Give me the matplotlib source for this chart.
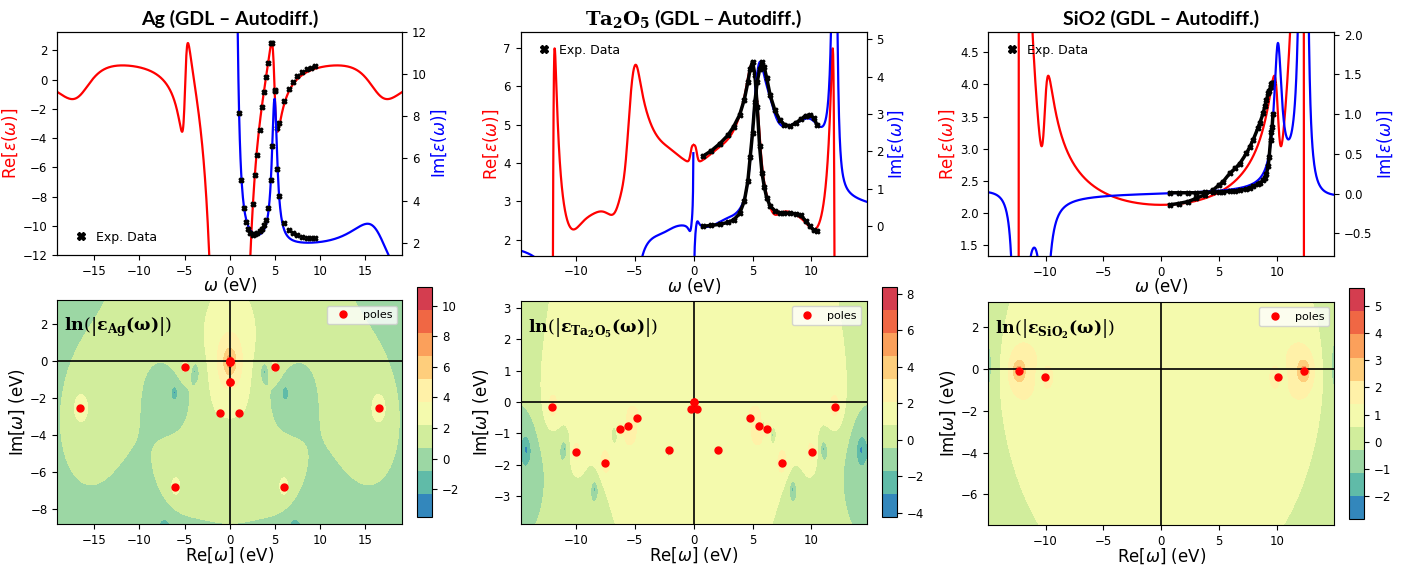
import numpy as np
import matplotlib
matplotlib.use('Agg')
import matplotlib.pyplot as plt

W, H = 1402, 566

# GDL poles; every pole off the imaginary axis has a partner at -conj(p)
ag_pole_re = [0.0, 4.95, 1.03, 16.55, 6.02]
ag_pole_im = [-1.17, -0.36, -2.8, -2.54, -6.82]
ta_pole_re = [0.0, 0.25, 2.1, 4.82, 5.55, 6.24, 7.52, 10.03, 12.0]
ta_pole_im = [0.0, -0.21, -1.52, -0.51, -0.76, -0.86, -1.94, -1.6, -0.16]
si_pole_re = [10.08, 12.33]
si_pole_im = [-0.4, -0.1]

# residues c = a + ib, eps_inf, Drude term (wp^2, gamma) for the metal
ag_res_a = [0.0, -2.483, 0.5647, -4.134, -1.832]
ag_res_b = [1.286, 0.02562, 2.785, -4.986, 3.442]
ag_einf = 0.998
ag_wp2 = 89.27
ag_gamma = 0.08
ta_res_a = [0.0, -0.07172, -0.08848, 0.09951, -2.881, -1.02, -1.057, -1.813, -2.405]
ta_res_b = [-0.02926, 0.01924, 0.3828, 0.2295, -0.1287, 0.9245, 2.377, -0.2231, -0.3869]
ta_einf = 1.324
si_res_a = [-0.6866, -4.771]
si_res_b = [-0.01496, -0.2213]
si_einf = 1.22

# measured permittivity
ag_exp_w = [1.0, 1.26, 1.52, 1.77, 2.0, 2.29, 2.55, 2.77, 3.03, 3.29, 3.55, 3.77, 4.03, 4.25,
            4.58, 4.7, 4.95, 5.25, 5.47, 5.99, 6.54, 7.02, 7.46, 8.02, 8.5, 8.94, 9.42]
ag_exp_re = [-77, -47, -32, -23, -17, -12.3, -8.5, -6.5, -5.16, -3.45, -1.9, -0.87, 0.2, 1.1,
             2.52, 2.5, -0.8, -3.3, -2.95, -1.44, -0.67, -0.14, 0.24, 0.54, 0.70, 0.81, 0.93]
ag_exp_im = [8.16, 5.0, 3.64, 3.01, 2.64, 2.46, 2.38, 2.41, 2.46, 2.55, 2.68, 2.85, 3.08, 3.64,
             4.97, 6.6, 9.25, 5.5, 4.2, 2.96, 2.61, 2.46, 2.38, 2.3, 2.25, 2.22, 2.22]

ta_exp_w = [0.79, 1.5, 2.2, 2.9, 3.4, 3.9, 4.3, 4.6, 4.8, 5.0, 5.2, 5.4, 5.6, 5.8, 6.0, 6.2,
            6.5, 6.9, 7.3, 7.7, 8.2, 8.7, 9.1, 9.5, 9.9, 10.2, 10.5]
ta_exp_re = [4.18, 4.32, 4.5, 4.72, 4.95, 5.25, 5.65, 6.1, 6.45, 6.64, 6.3, 5.45, 4.43, 3.75,
             3.38, 3.1, 2.88, 2.76, 2.71, 2.70, 2.69, 2.68, 2.64, 2.5, 2.35, 2.25, 2.22]
ta_exp_im = [0.0, 0.02, 0.05, 0.1, 0.17, 0.34, 0.67, 1.2, 1.85, 2.5, 3.33, 3.87, 4.2, 4.4,
             4.25, 3.97, 3.5, 3.1, 2.85, 2.72, 2.68, 2.77, 2.86, 2.96, 2.97, 2.9, 2.7]

si_exp_w = [0.72, 1.5, 2.3, 3.03, 3.8, 4.47, 5.0, 5.34, 5.92, 6.4, 6.78, 7.36, 7.65, 7.94,
            8.37, 8.51, 8.8, 8.95, 9.09, 9.24, 9.32, 9.44, 9.52, 9.58, 9.65]
si_exp_re = [2.13, 2.15, 2.18, 2.23, 2.29, 2.36, 2.44, 2.49, 2.62, 2.7, 2.77, 2.93, 3.03, 3.14,
             3.33, 3.40, 3.55, 3.66, 3.76, 3.86, 3.9, 3.96, 4.0, 4.02, 4.03]
si_exp_im = [0.01, 0.01, 0.01, 0.01, 0.015, 0.02, 0.02, 0.02, 0.03, 0.035, 0.04, 0.055, 0.07,
             0.09, 0.12, 0.13, 0.17, 0.2, 0.25, 0.35, 0.46, 0.67, 0.78, 0.84, 1.0]


def gdl(w, pre, pim, a, b, einf, wp2=0.0, gamma=None):
    w = np.asarray(w, dtype=complex)
    eps = np.full(w.shape, einf, dtype=complex)
    if gamma is not None:
        eps -= wp2 / (w * (w + 1j * gamma))
    for pr, pi, ai, bi in zip(pre, pim, a, b):
        p = pr + 1j * pi
        if pr == 0:
            eps += 2j * bi / (w - p)
        else:
            c = ai + 1j * bi
            eps += c / (w - p) - np.conj(c) / (w + np.conj(p))
    return eps


def box(l, t, r, b):
    return [l / W, 1 - b / H, (r - l) / W, (b - t) / H]


band_colors = plt.cm.Spectral_r(np.linspace(0.1, 0.9, 10))

plt.rcParams['font.size'] = 8.5
fig = plt.figure(figsize=(W / 100, H / 100), dpi=100)

panels = [
    dict(model=(ag_pole_re, ag_pole_im, ag_res_a, ag_res_b, ag_einf, ag_wp2, ag_gamma), xl=19.1,
         ylre=(-12, 3.27), ylim_=(1.43, 12), exp=(ag_exp_w, ag_exp_re, ag_exp_im),
         top=(57.3, 31.7, 402.3, 255), bot=(57.3, 300, 402.3, 524), cb=(417.3, 286.7, 432.3, 517.3),
         yb=(-8.81, 3.28), lev=(-3.83, 11.24), cbt=[-2, 0, 2, 4, 6, 8, 10], leg='lower left',
         dense=False, title='Ag (GDL – Autodiff.)', sub='Ag'),
    dict(model=(ta_pole_re, ta_pole_im, ta_res_a, ta_res_b, ta_einf), xl=14.7,
         ylre=(1.59, 7.4), ylim_=(-0.79, 5.19), exp=(ta_exp_w, ta_exp_re, ta_exp_im),
         top=(520.7, 32.3, 866.7, 255.7), bot=(520.7, 300.7, 866.7, 524.3), cb=(881.7, 287.3, 896.7, 517.3),
         yb=(-3.91, 3.24), lev=(-4.26, 8.37), cbt=[-4, -2, 0, 2, 4, 6, 8], leg='upper left',
         dense=True, title=r'$\mathbf{Ta_2O_5}$ (GDL – Autodiff.)', sub='Ta_2O_5'),
    dict(model=(si_pole_re, si_pole_im, si_res_a, si_res_b, si_einf), xl=14.95,
         ylre=(1.33, 4.81), ylim_=(-0.79, 2.03), exp=(si_exp_w, si_exp_re, si_exp_im),
         top=(988.3, 32.3, 1334.3, 256.3), bot=(988.3, 301.7, 1334.3, 525), cb=(1349.3, 288.3, 1364.3, 519),
         yb=(-7.46, 3.2), lev=(-2.84, 5.64), cbt=[-2, -1, 0, 1, 2, 3, 4, 5], leg='upper left',
         dense=True, title='SiO2 (GDL – Autodiff.)', sub='SiO_2'),
]

for P in panels:
    m = P['model']
    w = np.linspace(-P['xl'], P['xl'], 1001)
    with np.errstate(all='ignore'):
        eps = gdl(w, *m)
    ax = fig.add_axes(box(*P['top']))
    ax2 = ax.twinx()
    ax.plot(w, eps.real, color='red', lw=1.6)
    ax2.plot(w, eps.imag, color='blue', lw=1.6)
    ew, er, ei = P['exp']
    if P['dense']:
        ax.plot(ew, er, color='k', lw=2.5)
        ax2.plot(ew, ei, color='k', lw=2.5)
    ax.plot(ew, er, 'kX', ms=3.5, ls='none')
    h = ax2.plot(ew, ei, 'kX', ms=3.5, ls='none', label='Exp. Data')
    ax2.legend(handles=h, loc=P['leg'], frameon=False, fontsize=9, handletextpad=0.2,
               markerscale=1.7)
    ax.set_xlim(-P['xl'], P['xl'])
    ax.set_ylim(*P['ylre'])
    ax2.set_ylim(*P['ylim_'])
    ax.set_ylabel(r'Re[$\varepsilon(\omega)$]', color='red', fontsize=12, labelpad=2)
    ax2.set_ylabel(r'Im[$\varepsilon(\omega)$]', color='blue', fontsize=12, labelpad=2)
    ax.set_xlabel(r'$\omega$ (eV)', fontsize=12, labelpad=-2)
    ax.set_title(P['title'], fontsize=14, fontweight='bold', family='Lato',
                 math_fontfamily='dejavuserif', pad=5)

    # ln|eps| over the complex frequency plane
    bx = fig.add_axes(box(*P['bot']))
    X, Y = np.meshgrid(np.linspace(-P['xl'], P['xl'], 600),
                       np.linspace(P['yb'][0], P['yb'][1], 300))
    with np.errstate(all='ignore'):
        Z = np.log(np.abs(gdl(X + 1j * Y, *m)))
    lo, hi = P['lev']
    Z = np.clip(np.nan_to_num(Z, nan=hi, posinf=hi, neginf=lo), lo, hi)
    cs = bx.contourf(X, Y, Z, levels=np.linspace(lo, hi, 11), colors=band_colors)
    bx.axhline(0, color='k', lw=1.2)
    bx.axvline(0, color='k', lw=1.2)
    pr = np.array(m[0])
    pi = np.array(m[1])
    if len(m) > 5:
        pr = np.append(pr, [0.0, 0.0])
        pi = np.append(pi, [0.0, -m[6]])
    bx.plot(np.concatenate([pr, -pr]), np.concatenate([pi, pi]), 'o', color='red', ms=5,
            ls='none', label='poles')
    bx.legend(loc='upper right', fontsize=8, handletextpad=0.8)
    bx.set_xlim(-P['xl'], P['xl'])
    bx.set_ylim(*P['yb'])
    bx.set_xlabel(r'Re[$\omega$] (eV)', fontsize=12, labelpad=-1)
    bx.set_ylabel(r'Im[$\omega$] (eV)', fontsize=12, labelpad=2)
    bx.text(0.02, 0.86, r'$\mathbf{ln}(\left|\mathbf{\varepsilon_{%s}(\omega)}\right|)$' % P['sub'],
            transform=bx.transAxes, fontsize=12.5, math_fontfamily='dejavuserif')
    cax = fig.add_axes(box(*P['cb']))
    fig.colorbar(cs, cax=cax, ticks=P['cbt'])

fig.savefig('out.png', dpi=100)
